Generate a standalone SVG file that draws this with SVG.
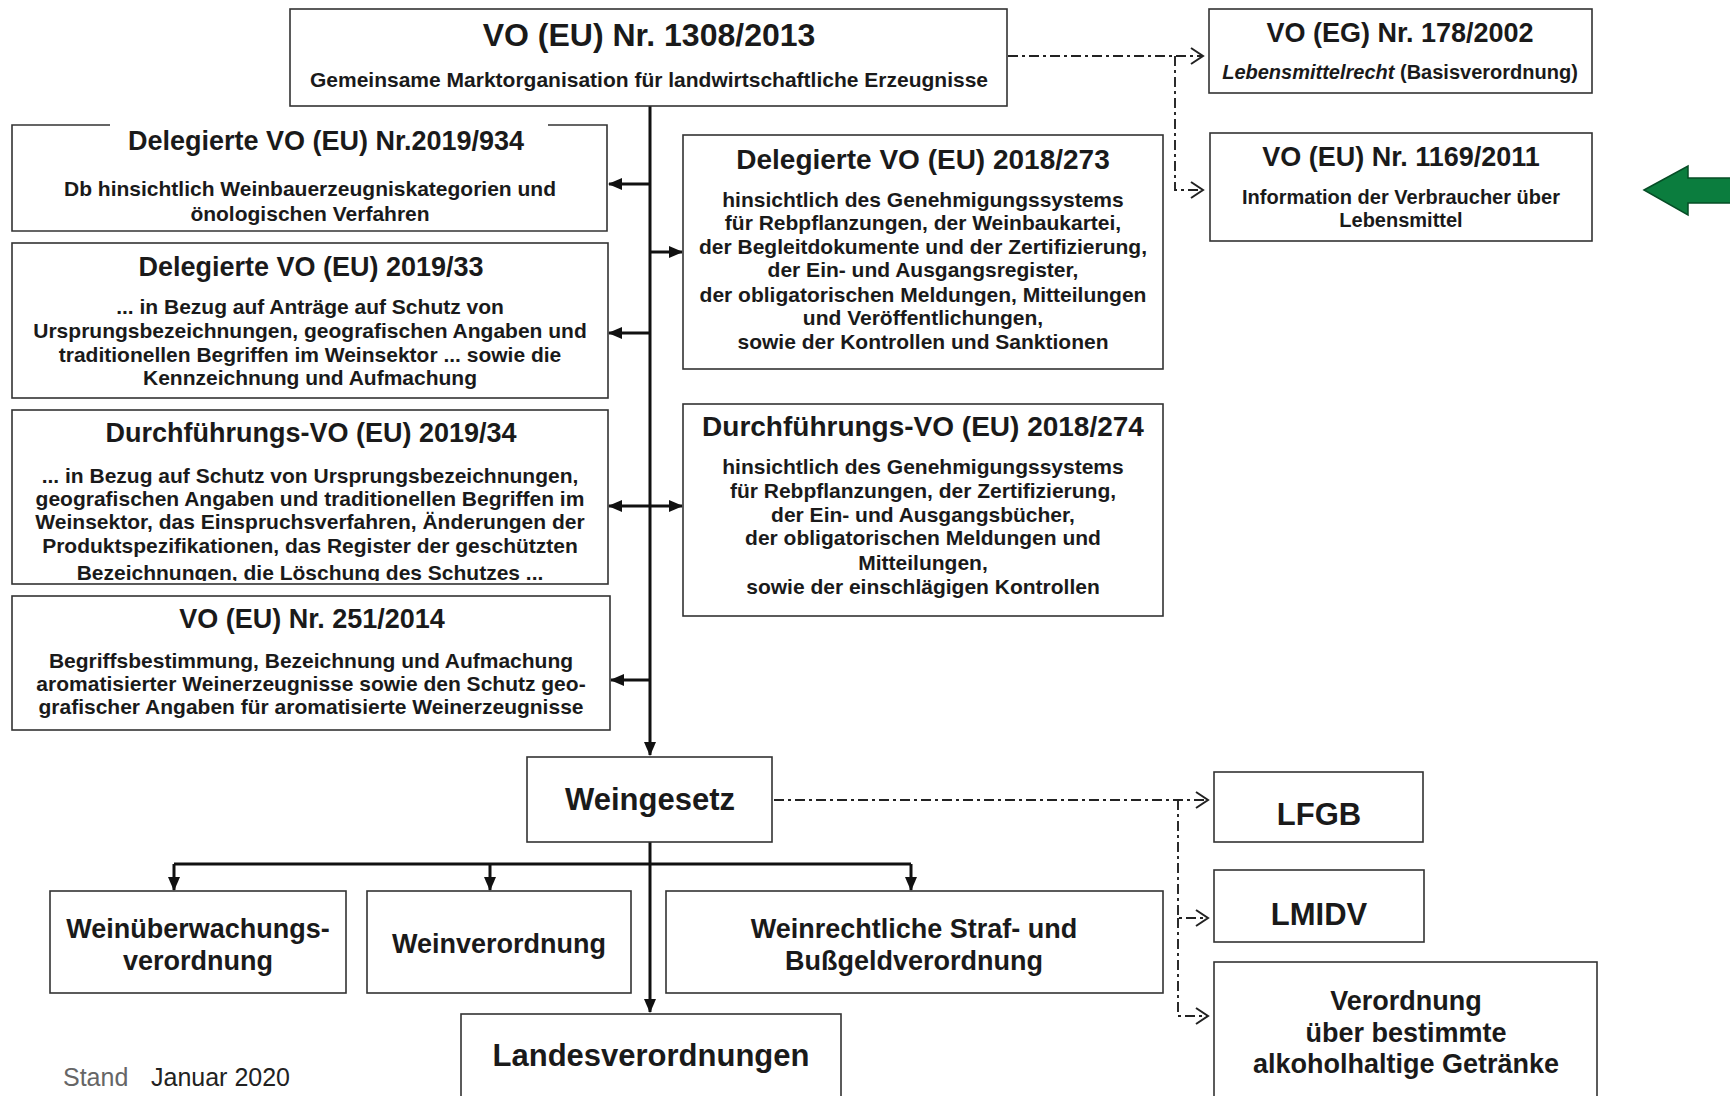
<svg xmlns="http://www.w3.org/2000/svg" width="1730" height="1096" viewBox="0 0 1730 1096">
<defs>
<style>
.box{fill:#fff;stroke:#333;stroke-width:1.6}
.t{font-family:"Liberation Sans",Arial,sans-serif;font-weight:bold;fill:#1a1a1a;text-anchor:middle}
.h32{font-size:32px}.h27{font-size:27px}.h28{font-size:28px}.h31{font-size:31px}
.b21{font-size:21px}.b20{font-size:20px}
.conn{stroke:#111;stroke-width:3;fill:none}
.dd{stroke:#222;stroke-width:1.9;stroke-dasharray:10 4 3 4;fill:none}
.foot{font-family:"Liberation Sans",Arial,sans-serif;font-size:25px}
</style>
<marker id="arr" markerUnits="userSpaceOnUse" markerWidth="14" markerHeight="12" refX="13" refY="6" orient="auto-start-reverse" viewBox="0 0 14 12">
<path d="M0,0 L14,6 L0,12 z" fill="#111"/>
</marker>
<marker id="chev" markerUnits="userSpaceOnUse" markerWidth="16" markerHeight="20" refX="14" refY="10" orient="auto" viewBox="0 0 16 20">
<path d="M2,2 L14,10 L2,18" fill="none" stroke="#222" stroke-width="2"/>
</marker>
<clipPath id="clip34"><rect x="12" y="410" width="596" height="171"/></clipPath>
</defs>
<rect width="1730" height="1096" fill="#fff"/>

<g id="connectors">
<line class="conn" x1="650" y1="106" x2="650" y2="755" marker-end="url(#arr)"/>
<line class="conn" x1="650" y1="184" x2="609" y2="184" marker-end="url(#arr)"/>
<line class="conn" x1="650" y1="252" x2="682" y2="252" marker-end="url(#arr)"/>
<line class="conn" x1="650" y1="333" x2="609" y2="333" marker-end="url(#arr)"/>
<line class="conn" x1="609" y1="506" x2="682" y2="506" marker-start="url(#arr)" marker-end="url(#arr)"/>
<line class="conn" x1="650" y1="680" x2="611" y2="680" marker-end="url(#arr)"/>
<line class="conn" x1="650" y1="842" x2="650" y2="1012" marker-end="url(#arr)"/>
<line class="conn" x1="174" y1="864" x2="911" y2="864"/>
<line class="conn" x1="174" y1="864" x2="174" y2="890" marker-end="url(#arr)"/>
<line class="conn" x1="490" y1="864" x2="490" y2="890" marker-end="url(#arr)"/>
<line class="conn" x1="911" y1="864" x2="911" y2="890" marker-end="url(#arr)"/>
<line class="dd" x1="1008" y1="56" x2="1203" y2="56" marker-end="url(#chev)"/>
<polyline class="dd" points="1175,56 1175,190 1203,190" marker-end="url(#chev)"/>
<line class="dd" x1="774" y1="800" x2="1208" y2="800" marker-end="url(#chev)"/>
<polyline class="dd" points="1178,800 1178,918 1208,918" marker-end="url(#chev)"/>
<polyline class="dd" points="1178,918 1178,1016 1208,1016" marker-end="url(#chev)"/>
</g>

<g id="n1308">
<rect class="box" x="290" y="9" width="717" height="97"/>
<text class="t h32" x="649" y="46">VO (EU) Nr. 1308/2013</text>
<text class="t b21" x="649" y="87">Gemeinsame Marktorganisation für landwirtschaftliche Erzeugnisse</text>
</g>

<g id="n178">
<rect class="box" x="1209" y="9" width="383" height="84"/>
<text class="t h27" x="1400" y="42">VO (EG) Nr. 178/2002</text>
<text class="t b20" x="1400" y="79"><tspan font-style="italic">Lebensmittelrecht</tspan> (Basisverordnung)</text>
</g>

<g id="n1169">
<rect class="box" x="1210" y="133" width="382" height="108"/>
<text class="t h27" x="1401" y="166">VO (EU) Nr. 1169/2011</text>
<text class="t b20" x="1401" y="204">Information der Verbraucher über</text>
<text class="t b20" x="1401" y="227">Lebensmittel</text>
</g>

<g id="greenArrow">
<polygon points="1644,190 1688,166 1688,178 1732,178 1732,203 1688,203 1688,215" fill="#0b7d3e" stroke="#064d26" stroke-width="1.5"/>
</g>

<g id="n934">
<path class="box" d="M110,125 L12,125 L12,231 L607,231 L607,125 L548,125"/>
<text class="t h27" x="326" y="150">Delegierte VO (EU) Nr.2019/934</text>
<text class="t b21" x="310" y="196">Db hinsichtlich Weinbauerzeugniskategorien und</text>
<text class="t b21" x="310" y="221">önologischen Verfahren</text>
</g>

<g id="n33">
<rect class="box" x="12" y="243" width="596" height="155"/>
<text class="t h27" x="311" y="276">Delegierte VO (EU) 2019/33</text>
<text class="t b21" x="310" y="314">... in Bezug auf Anträge auf Schutz von</text>
<text class="t b21" x="310" y="338">Ursprungsbezeichnungen, geografischen Angaben und</text>
<text class="t b21" x="310" y="362">traditionellen Begriffen im Weinsektor ... sowie die</text>
<text class="t b21" x="310" y="385">Kennzeichnung und Aufmachung</text>
</g>

<g id="n34">
<rect class="box" x="12" y="410" width="596" height="174"/>
<text class="t h27" x="311" y="442">Durchführungs-VO (EU) 2019/34</text>
<g clip-path="url(#clip34)">
<text class="t b21" x="310" y="483">... in Bezug auf Schutz von Ursprungsbezeichnungen,</text>
<text class="t b21" x="310" y="506">geografischen Angaben und traditionellen Begriffen im</text>
<text class="t b21" x="310" y="529">Weinsektor, das Einspruchsverfahren, Änderungen der</text>
<text class="t b21" x="310" y="553">Produktspezifikationen, das Register der geschützten</text>
<text class="t b21" x="310" y="580">Bezeichnungen, die Löschung des Schutzes ...</text>
</g>
</g>

<g id="n251">
<rect class="box" x="12" y="596" width="598" height="134"/>
<text class="t h27" x="312" y="628">VO (EU) Nr. 251/2014</text>
<text class="t b21" x="311" y="668">Begriffsbestimmung, Bezeichnung und Aufmachung</text>
<text class="t b21" x="311" y="691">aromatisierter Weinerzeugnisse sowie den Schutz geo-</text>
<text class="t b21" x="311" y="714">grafischer Angaben für aromatisierte Weinerzeugnisse</text>
</g>

<g id="n273">
<rect class="box" x="683" y="135" width="480" height="234"/>
<text class="t h28" x="923" y="169">Delegierte VO (EU) 2018/273</text>
<text class="t b21" x="923" y="207">hinsichtlich des Genehmigungssystems</text>
<text class="t b21" x="923" y="230">für Rebpflanzungen, der Weinbaukartei,</text>
<text class="t b21" x="923" y="254">der Begleitdokumente und der Zertifizierung,</text>
<text class="t b21" x="923" y="277">der Ein- und Ausgangsregister,</text>
<text class="t b21" x="923" y="302">der obligatorischen Meldungen, Mitteilungen</text>
<text class="t b21" x="923" y="325">und Veröffentlichungen,</text>
<text class="t b21" x="923" y="349">sowie der Kontrollen und Sanktionen</text>
</g>

<g id="n274">
<rect class="box" x="683" y="404" width="480" height="212"/>
<text class="t h28" x="923" y="436">Durchführungs-VO (EU) 2018/274</text>
<text class="t b21" x="923" y="474">hinsichtlich des Genehmigungssystems</text>
<text class="t b21" x="923" y="498">für Rebpflanzungen, der Zertifizierung,</text>
<text class="t b21" x="923" y="522">der Ein- und Ausgangsbücher,</text>
<text class="t b21" x="923" y="545">der obligatorischen Meldungen und</text>
<text class="t b21" x="923" y="570">Mitteilungen,</text>
<text class="t b21" x="923" y="594">sowie der einschlägigen Kontrollen</text>
</g>

<g id="nWeingesetz">
<rect class="box" x="527" y="757" width="245" height="85"/>
<text class="t h31" x="650" y="810">Weingesetz</text>
</g>

<g id="nLFGB">
<rect class="box" x="1214" y="772" width="209" height="70"/>
<text class="t h31" x="1319" y="825">LFGB</text>
</g>

<g id="nLMIDV">
<rect class="box" x="1214" y="870" width="210" height="72"/>
<text class="t h31" x="1319" y="925">LMIDV</text>
</g>

<g id="nAlk">
<rect class="box" x="1214" y="962" width="383" height="150"/>
<text class="t h27" x="1406" y="1010">Verordnung</text>
<text class="t h27" x="1406" y="1042">über bestimmte</text>
<text class="t h27" x="1406" y="1073">alkoholhaltige Getränke</text>
</g>

<g id="nWUeV">
<rect class="box" x="50" y="891" width="296" height="102"/>
<text class="t h27" x="198" y="938">Weinüberwachungs-</text>
<text class="t h27" x="198" y="970">verordnung</text>
</g>

<g id="nWeinV">
<rect class="box" x="367" y="891" width="264" height="102"/>
<text class="t h27" x="499" y="953">Weinverordnung</text>
</g>

<g id="nStraf">
<rect class="box" x="666" y="891" width="497" height="102"/>
<text class="t h27" x="914" y="938">Weinrechtliche Straf- und</text>
<text class="t h27" x="914" y="970">Bußgeldverordnung</text>
</g>

<g id="nLandes">
<rect class="box" x="461" y="1014" width="380" height="100"/>
<text class="t h31" x="651" y="1066">Landesverordnungen</text>
</g>

<g id="footer">
<text class="foot" x="63" y="1086" fill="#666">Stand</text>
<text class="foot" x="151" y="1086" fill="#222">Januar 2020</text>
</g>
</svg>
